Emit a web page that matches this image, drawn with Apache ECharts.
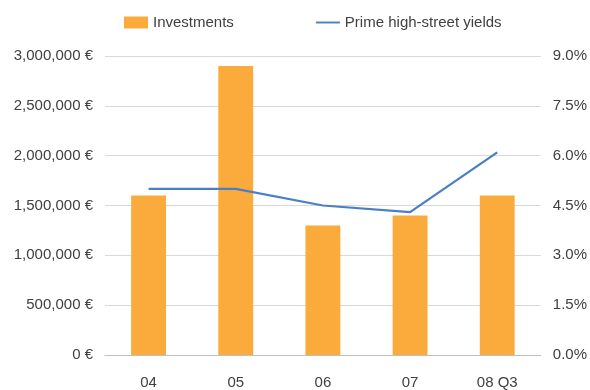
<!DOCTYPE html>
<html>
<head>
<meta charset="utf-8">
<script src="https://cdn.jsdelivr.net/npm/echarts@6/dist/echarts.min.js"></script>
<style>
  html, body { margin: 0; padding: 0; background: #fff; }
  #chart { width: 590px; height: 390px; }
</style>
</head>
<body>
<div id="chart"></div>
<script>
// data
var categories = ["04", "05", "06", "07", "08 Q3"];
var investments = [1600000, 2900000, 1300000, 1400000, 1600000];
var yields = [5.0, 5.0, 4.5, 4.3, 6.1];

var textColor = "#404040";
var font = "Liberation Sans, Arial, sans-serif";

var myChart = echarts.init(document.getElementById("chart"));
myChart.setOption({
    animation: false,
    textStyle: { fontFamily: font },
    legend: {
        left: 119,
        top: 10,
        itemGap: 82,
        itemWidth: 24,
        itemHeight: 12,
        textStyle: { color: textColor, fontSize: 15, fontFamily: font },
        data: [
            { name: "Investments", icon: "rect" },
            { name: "Prime high-street yields", icon: "path://M0,5 L25,5 L25,7 L0,7 Z" }
        ]
    },
    grid: { left: 105, right: 49, top: 56, bottom: 34 },
    xAxis: {
        type: "category",
        data: categories,
        axisLine: { lineStyle: { color: "#bfbfbf", width: 1 } },
        axisTick: { show: false },
        axisLabel: { color: textColor, fontSize: 15, margin: 20 }
    },
    yAxis: [
        {
            type: "value",
            min: 0, max: 3000000, interval: 500000,
            axisLine: { show: false },
            axisTick: { show: false },
            splitLine: { lineStyle: { color: "#d9d9d9" } },
            axisLabel: {
                color: textColor, fontSize: 15, margin: 12,
                formatter: function (v) {
                    return String(v).replace(/\B(?=(\d{3})+(?!\d))/g, ",") + " €";
                }
            }
        },
        {
            type: "value",
            min: 0, max: 9, interval: 1.5,
            axisLine: { show: false },
            axisTick: { show: false },
            splitLine: { show: false },
            axisLabel: {
                color: textColor, fontSize: 15, margin: 12,
                formatter: function (v) { return v.toFixed(1) + "%"; }
            }
        }
    ],
    series: [
        {
            name: "Investments",
            type: "bar",
            data: investments,
            barWidth: "40%",
            itemStyle: { color: "#fbaa3c" }
        },
        {
            name: "Prime high-street yields",
            type: "line",
            yAxisIndex: 1,
            data: yields,
            symbol: "none",
            lineStyle: { color: "#4a7fc8", width: 2.25 },
            itemStyle: { color: "#4a7fc8" }
        }
    ]
});
</script>
</body>
</html>
